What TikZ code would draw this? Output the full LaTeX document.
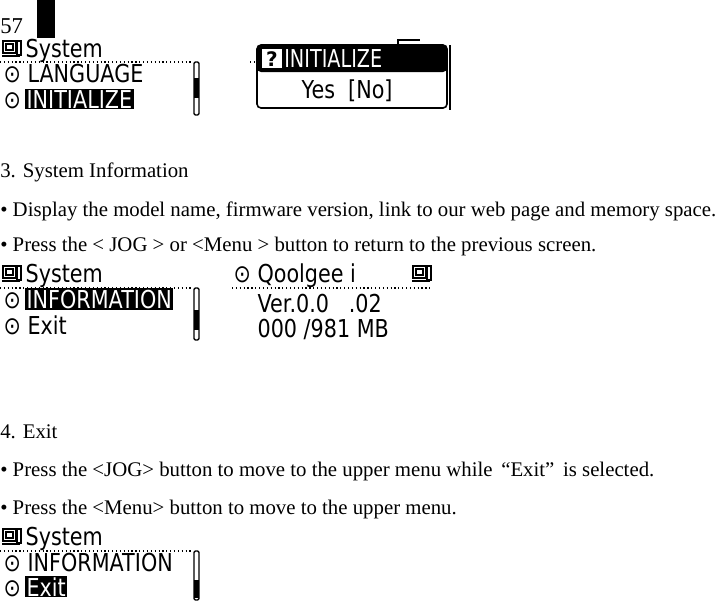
\documentclass[tikz,border=0pt]{standalone}
\usepackage{fontspec}
\setmainfont{Liberation Serif}
\newfontfamily\lcd{DejaVu Sans}
\begin{document}
\begin{tikzpicture}[x=0.75pt,y=-0.75pt,
  body/.style={anchor=base west,inner sep=0pt,font=\fontsize{15.6}{16}\selectfont},
  lcdt/.style={anchor=base west,inner sep=1pt,font=\lcd\fontsize{18.5}{18}\selectfont},
  hl/.style={lcdt,fill=black,text=white},
  dots/.style={dotted,line width=0.9pt},
  bar/.style={draw,line width=1pt,rounded corners=1pt}]
\useasboundingbox (0,0) rectangle (716,601);
\newcommand{\sq}[1]{\scalebox{0.84}[1]{#1}}
\newcommand{\sysicon}[2]{%
  \draw[line width=1pt] (#1,#2) rectangle ++(13,12);
  \draw[line width=1pt] (#1+3,#2+3) rectangle ++(7,6);
  \draw[line width=1.5pt] (#1-1,#2+15) -- ++(18,0);
  \draw[line width=1pt] (#1+14,#2) rectangle ++(4,14);}
% page number and mark
\node[body,font=\fontsize{17}{17}\selectfont] (pg) at (0,33) {57};
\fill (37,0) rectangle (55,38);
% screen 1
\sysicon{3}{41}
\node[lcdt] (s1) at (24,57) {\sq{System}};
\draw[dots] (0,62) -- (193,62);
\node[lcdt] (s1a) at (2,82) {\sq{⊙ LANGUAGE}};
\node[lcdt] (s1b0) at (2,108) {\sq{⊙}};
\node[hl] (s1b) at (25,108) {\sq{INITIALIZE}};
\draw[bar] (194,62) rectangle (199,115);
\fill (194,78) rectangle (199,98);
% dialog
\draw[dots] (250,62) -- (257,62);
\draw[line width=1pt] (398,46) -- (398,40) -- (420,40);
\draw[line width=1pt] (450,45) -- (450,110);
\draw[line width=1.2pt,rounded corners=3pt] (257,45) rectangle (447,108);
\fill[rounded corners=3pt] (257,45) rectangle (447,72);
\fill[white] (262,49) rectangle (282,68);
\node[font=\lcd\bfseries\fontsize{15}{15}\selectfont,inner sep=0pt] (q) at (272,59) {?};
\node[hl,inner sep=0pt] (dt) at (284,67) {\scalebox{0.78}[1]{INITIALIZE}};
\node[lcdt] (yn) at (300,98) {\sq{Yes \ [No]}};
% section 3
\node[body] (h3) at (0,177) {3. System Information};
\node[body] (b1) at (0,216) {• Display the model name, firmware version, link to our web page and memory space.};
\node[body] (b2) at (0,251) {• Press the < JOG > or <Menu > button to return to the previous screen.};
% screen 2
\sysicon{3}{266}
\node[lcdt] (s2) at (24,282) {\sq{System}};
\draw[dots] (0,288) -- (193,288);
\node[lcdt] (s2a0) at (2,308) {\sq{⊙}};
\node[hl] (s2a) at (25,308) {\sq{INFORMATION}};
\node[lcdt] (s2b) at (2,334) {\sq{⊙ Exit}};
\draw[bar] (194,288) rectangle (199,340);
\fill (194,310) rectangle (199,330);
% info screen
\node[lcdt] (i1) at (232,282) {\sq{⊙ Qoolgee i}};
\sysicon{413}{266}
\draw[dots] (232,288) -- (430,288);
\node[lcdt] (i2) at (256,312) {\sq{Ver.0.0 \ \ .02}};
\node[lcdt] (i3) at (256,337) {\sq{000 /981 MB}};
% section 4
\node[body] (h4) at (0,438) {4. Exit};
\node[body] (c1) at (0,476) {• Press the <JOG> button to move to the upper menu while \,“Exit”\, is selected.};
\node[body] (c2) at (0,514) {• Press the <Menu> button to move to the upper menu.};
% screen 3
\sysicon{3}{529}
\node[lcdt] (s3) at (24,545) {\sq{System}};
\draw[dots] (0,551) -- (193,551);
\node[lcdt] (s3a) at (2,571) {\sq{⊙ INFORMATION}};
\node[lcdt] (s3b0) at (2,596) {\sq{⊙}};
\node[hl] (s3b) at (25,596) {\sq{Exit}};
\draw[bar] (194,551) rectangle (199,600);
\fill (194,580) rectangle (199,598);
\end{tikzpicture}
\end{document}
